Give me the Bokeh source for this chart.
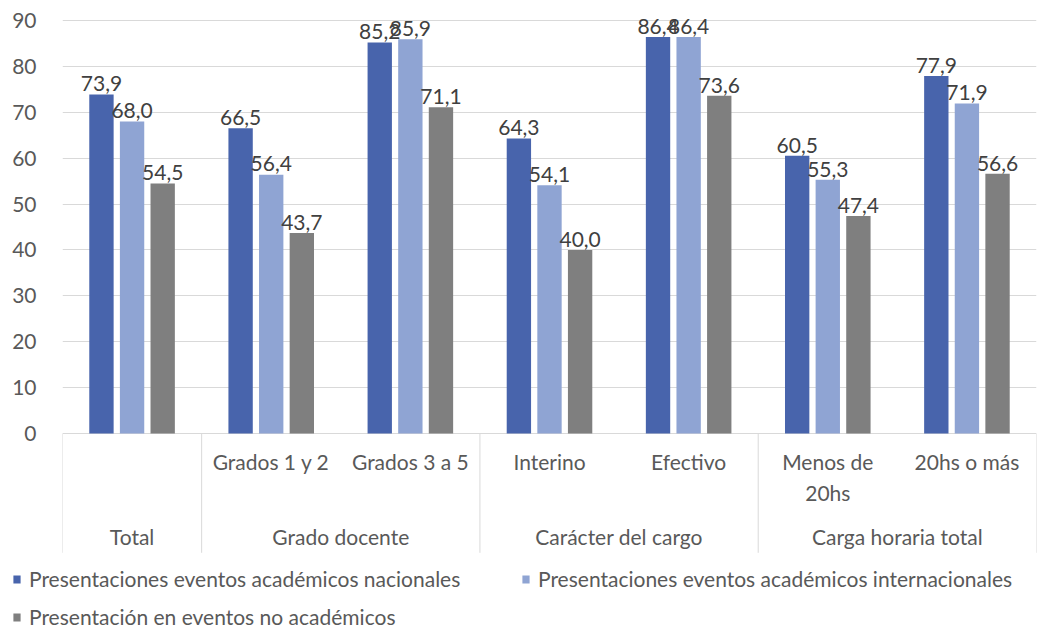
from bokeh.plotting import figure
from bokeh.layouts import column
from bokeh.models import (ColumnDataSource, FactorRange, Range1d, FixedTicker,
                          Legend, LegendItem)
from bokeh.transform import dodge
from bokeh.core.properties import value
from bokeh.embed import file_html
from bokeh.resources import INLINE

# ---- data ----
slot_groups = ["Total", "Grado docente", "Grado docente", "Carácter del cargo",
               "Carácter del cargo", "Carga horaria total", "Carga horaria total"]
sub_labels = ["", "Grados 1 y 2", "Grados 3 a 5", "Interino", "Efectivo",
              "Menos de\n20hs", "20hs o más"]
group_names = ["Total", "Grado docente", "Carácter del cargo", "Carga horaria total"]
series_names = ["Presentaciones eventos académicos nacionales",
                "Presentaciones eventos académicos internacionales",
                "Presentación en eventos no académicos"]
nacionales = [73.9, 66.5, 85.2, 64.3, 86.4, 60.5, 77.9]
internacionales = [68.0, 56.4, 85.9, 54.1, 86.4, 55.3, 71.9]
no_academicos = [54.5, 43.7, 71.1, 40.0, 73.6, 47.4, 56.6]
y_ticks = [0, 10, 20, 30, 40, 50, 60, 70, 80, 90]

colors = ["#4864AC", "#8FA4D3", "#7F7F7F"]
FONT = "Lato"
FS = "21px"

sub_keys = [s if s else " " for s in sub_labels]
factors = list(zip(slot_groups, sub_keys))

def fmt(vals):
    return [f"{v:.1f}".replace(".", ",") for v in vals]

src = ColumnDataSource(dict(
    x=factors,
    nac=nacionales, intl=internacionales, noac=no_academicos,
    nac_l=fmt(nacionales), intl_l=fmt(internacionales), noac_l=fmt(no_academicos),
    sub=sub_labels,
))

W = 1060
MAIN_H = 566
LEG_H = 63
px_per_unit = 413.0 / 90.0
zero_px = 433.0
y_top = zero_px / px_per_unit
x_range = FactorRange(*factors, group_padding=0, factor_padding=0, range_padding=0)
y_range = Range1d(y_top - MAIN_H / px_per_unit, y_top)

p = figure(width=W, height=MAIN_H, x_range=x_range, y_range=y_range,
           output_backend="svg", toolbar_location=None,
           min_border_left=62, min_border_right=24, min_border_top=0, min_border_bottom=0)
p.frame_align = False
p.outline_line_color = None
p.background_fill_color = "white"
p.border_fill_color = "white"

p.xaxis.visible = False
p.xgrid.visible = False
p.ygrid.ticker = FixedTicker(ticks=y_ticks)
p.ygrid.grid_line_color = "#D9D9D9"
p.ygrid.grid_line_width = 1
p.yaxis.ticker = FixedTicker(ticks=y_ticks)
p.yaxis.axis_line_color = None
p.yaxis.major_tick_line_color = None
p.yaxis.minor_tick_line_color = None
p.yaxis.major_label_standoff = 20
p.yaxis.major_label_text_font = FONT
p.yaxis.major_label_text_font_size = FS
p.yaxis.major_label_text_color = "#595959"

offsets = [-0.22, 0.0, 0.22]
cols = ["nac", "intl", "noac"]
for off, c, col in zip(offsets, cols, colors):
    p.vbar(x=dodge("x", off, range=p.x_range), top=c, width=0.175, bottom=0,
           source=src, fill_color=col, line_color=None)
    p.text(x=dodge("x", off, range=p.x_range), y=dodge(c, 0.7, range=p.y_range),
           text=c + "_l", source=src,
           text_align="center", text_baseline="bottom", text_font=value(FONT),
           text_font_size=FS, text_color="#404040")

# category labels
p.text(x="x", y=-3.3, text="sub", source=src, text_align="center",
       text_baseline="top", text_font=value(FONT), text_font_size=FS,
       text_color="#595959", text_line_height=1.25)
p.text(x=group_names, y=[-22.4] * len(group_names), text=group_names,
       text_align="center", text_baseline="middle", text_font=value(FONT),
       text_font_size=FS, text_color="#595959")

# separators between groups
sep_x = []
for g in group_names:
    first = factors[slot_groups.index(g)]
    sep_x.append([first[0], first[1], -0.5])
last = factors[-1]
sep_x.append([last[0], last[1], 0.5])
p.segment(x0=sep_x, y0=[0] * len(sep_x), x1=sep_x, y1=[-26] * len(sep_x),
          line_color="#D9D9D9", line_width=1)

# ---- legend strip ----
lf = figure(width=W, height=LEG_H, x_range=Range1d(0, 1), y_range=Range1d(0, 1),
            x_axis_type=None, y_axis_type=None, output_backend="svg",
            toolbar_location=None, min_border=0)
lf.frame_align = False
lf.outline_line_color = None
lf.grid.visible = False
# zero-height swatch renderers, used only as legend keys
leg_renderers = [lf.vbar(x=[0.5], top=[0], bottom=[0], width=0.01, fill_color=col,
                         line_color=None) for col in colors]
legend = Legend(items=[LegendItem(label=n, renderers=[r]) for n, r in zip(series_names, leg_renderers)],
                location=(12, 0), orientation="horizontal", ncols=2)
legend.padding = 0
legend.margin = 0
legend.border_line_color = None
legend.background_fill_alpha = 0
legend.label_text_font = FONT
legend.label_text_font_size = FS
legend.label_text_color = "#595959"
legend.glyph_width = 9
legend.glyph_height = 10
legend.label_standoff = 8
legend.label_height = 25
legend.label_width = 479
legend.spacing = 13
lf.add_layout(legend, "center")

layout = column(p, lf, spacing=0)
open("out.html", "w").write(file_html(layout, INLINE))
